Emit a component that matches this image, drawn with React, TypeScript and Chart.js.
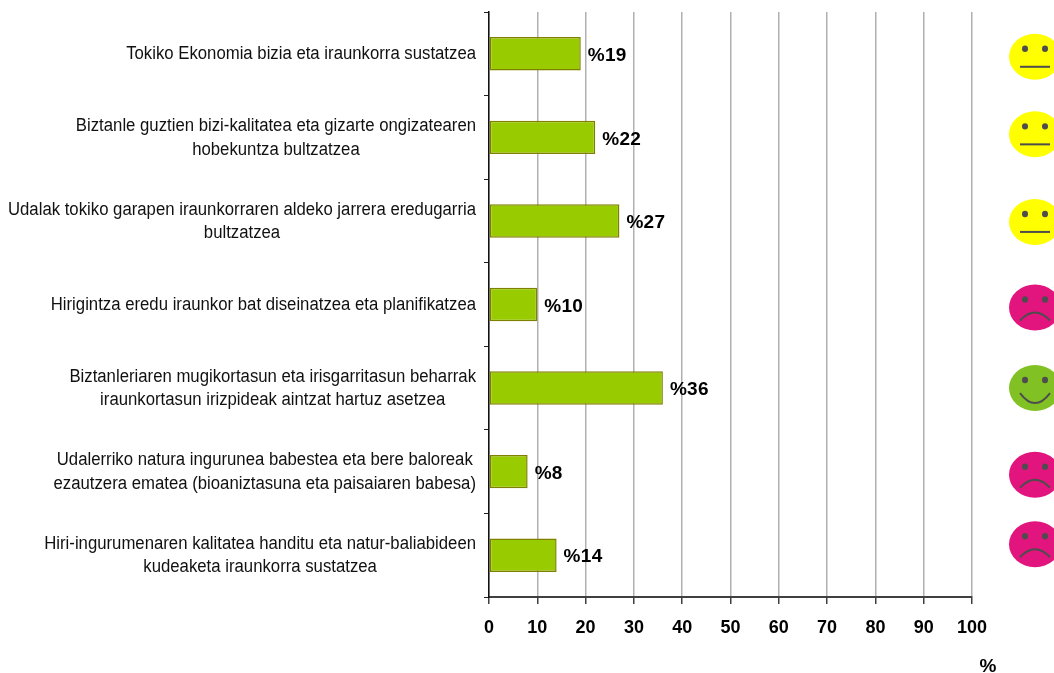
import React, { useEffect, useRef } from "react";
import { Chart, registerables } from "chart.js";

Chart.register(...registerables);

const categories: string[][] = [
  ["Tokiko Ekonomia bizia eta iraunkorra sustatzea"],
  ["Biztanle guztien bizi-kalitatea eta gizarte ongizatearen", "hobekuntza bultzatzea"],
  ["Udalak tokiko garapen iraunkorraren aldeko jarrera eredugarria", "bultzatzea"],
  ["Hirigintza eredu iraunkor bat diseinatzea eta planifikatzea"],
  ["Biztanleriaren mugikortasun eta irisgarritasun beharrak", "iraunkortasun irizpideak aintzat hartuz asetzea"],
  ["Udalerriko natura ingurunea babestea eta bere baloreak", "ezautzera ematea (bioaniztasuna eta paisaiaren babesa)"],
  ["Hiri-ingurumenaren kalitatea handitu eta natur-baliabideen", "kudeaketa iraunkorra sustatzea"],
];
const values: number[] = [19, 22, 27, 10, 36, 8, 14];
const moods: string[] = ["neutral", "neutral", "neutral", "sad", "happy", "sad", "sad"];
const axisUnit = "%";

const FACE_COLORS: Record<string, string> = { neutral: "#FFFF00", sad: "#E2157F", happy: "#82C124" };
const FACE_SHIFT = [3, -3, 1, 3, 0, 3, -11];
const TEXT_SQUEEZE = 0.93;

const decorations = {
  id: "decorations",
  afterDraw(chart: any) {
    const { ctx } = chart;
    const y = chart.scales.y;
    const x = chart.scales.x;
    ctx.save();
    ctx.font = '18px "Liberation Sans"';
    ctx.fillStyle = "#111111";
    ctx.textBaseline = "middle";
    ctx.textAlign = "center";
    categories.forEach((lines, i) => {
      const cy = y.getPixelForValue(i);
      const widest = Math.max(...lines.map((l) => ctx.measureText(l).width)) * TEXT_SQUEEZE;
      const cx = x.left - 13 - widest / 2;
      lines.forEach((l, k) => {
        ctx.save();
        ctx.translate(cx, cy + (k - (lines.length - 1) / 2) * 23.5 + 0.5);
        ctx.scale(TEXT_SQUEEZE, 1);
        ctx.fillText(l, 0, 0);
        ctx.restore();
      });
    });
    ctx.font = 'bold 19px "Liberation Sans"';
    (ctx as any).letterSpacing = "0.3px";
    ctx.fillStyle = "#000000";
    ctx.textAlign = "left";
    const meta = chart.getDatasetMeta(0);
    meta.data.forEach((bar: any, i: number) => {
      ctx.fillText("%" + values[i], bar.x + 7, bar.y + 2);
    });
    (ctx as any).letterSpacing = "0px";
    ctx.textAlign = "center";
    ctx.fillText(axisUnit, x.right + 16, 667);
    moods.forEach((m, i) => {
      const cx = 1035;
      const cy = y.getPixelForValue(i) + FACE_SHIFT[i];
      ctx.fillStyle = FACE_COLORS[m];
      ctx.beginPath();
      ctx.ellipse(cx, cy, 26, 23, 0, 0, Math.PI * 2);
      ctx.fill();
      ctx.fillStyle = "#4D4D4D";
      [-10, 10].forEach((dx) => {
        ctx.beginPath();
        ctx.ellipse(cx + dx, cy - 8, 3, 3.2, 0, 0, Math.PI * 2);
        ctx.fill();
      });
      ctx.strokeStyle = "#4D4D4D";
      ctx.lineWidth = 2;
      ctx.beginPath();
      if (m === "neutral") {
        ctx.moveTo(cx - 15, cy + 10);
        ctx.lineTo(cx + 15, cy + 10);
      } else if (m === "happy") {
        ctx.moveTo(cx - 15, cy + 5);
        ctx.quadraticCurveTo(cx, cy + 25, cx + 15, cy + 5);
      } else {
        ctx.moveTo(cx - 15, cy + 13);
        ctx.quadraticCurveTo(cx, cy - 3, cx + 15, cy + 13);
      }
      ctx.stroke();
    });
    ctx.restore();
  },
};

export default function App() {
  const ref = useRef<HTMLCanvasElement>(null);
  useEffect(() => {
    document.body.style.margin = "0";
    const chart = new Chart(ref.current!, {
      type: "bar",
      plugins: [decorations],
      data: {
        labels: categories,
        datasets: [
          {
            data: values,
            backgroundColor: "#99CC00",
            borderColor: "#808000",
            borderWidth: 1.5,
            borderSkipped: false,
            barPercentage: 0.4,
            categoryPercentage: 1,
          },
        ],
      },
      options: {
        indexAxis: "y",
        animation: false,
        responsive: false,
        layout: { padding: { top: 12, right: 82, left: 0, bottom: 0 } },
        plugins: { legend: { display: false }, tooltip: { enabled: false } },
        scales: {
          x: {
            min: 0,
            max: 100,
            position: "bottom",
            afterFit: (s: any) => {
              s.height = 76;
              s.paddingLeft = 0;
              s.paddingRight = 0;
            },
            ticks: {
              stepSize: 10,
              color: "#000000",
              font: { family: "Liberation Sans", size: 18, weight: "bold" },
              padding: 13,
              maxRotation: 0,
              autoSkip: false,
            },
            grid: { color: "#B0B0B0", lineWidth: 1.5, tickColor: "#404040", tickLength: 7, tickWidth: 1.5 },
            border: { color: "#404040", width: 2 },
          },
          y: {
            position: "left",
            afterFit: (s: any) => {
              s.width = 489;
              s.paddingTop = 0;
              s.paddingBottom = 0;
            },
            ticks: { color: "rgba(0,0,0,0)", font: { family: "Liberation Sans", size: 14 }, autoSkip: false },
            grid: { drawOnChartArea: false, offset: true, tickColor: "#222222", tickLength: 5, tickWidth: 1 },
            border: { color: "#111111", width: 1.5 },
          },
        },
      },
    } as any);
    return () => chart.destroy();
  }, []);
  return <canvas ref={ref} width={1054} height={673} style={{ display: "block" }} />;
}
